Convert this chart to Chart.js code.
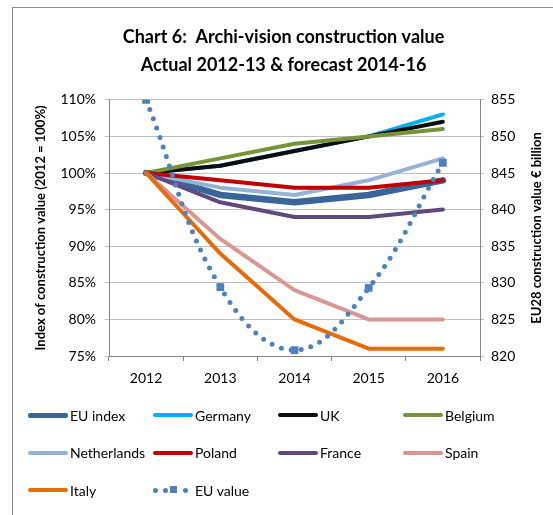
<!doctype html>
<html>
<head>
<script src="https://cdn.jsdelivr.net/npm/chart.js@4"></script>
<style>
  body { margin: 0; background: #fff; }
  #wrap { position: relative; width: 553px; height: 515px; overflow: hidden; font-family: Lato, sans-serif; }
  #frame { position: absolute; left: 12px; top: 7px; width: 700px; height: 700px; border: 1px solid #8c8c8c; }
  #chart { position: absolute; left: 0; top: 0; }
  #legend { position: absolute; left: 28px; top: 403px; display: grid; grid-template-columns: 125px 125px 125px 125px; grid-auto-rows: 37.5px; font-size: 14px; color: #000; }
  .item { display: flex; align-items: center; height: 24px; }
  .sw { width: 40px; height: 4px; border-radius: 2px; margin-right: 2px; }
  .dots { position: relative; width: 40px; height: 10px; margin-right: 2px; }
  .dots span { position: absolute; top: 2.5px; width: 5px; height: 5px; border-radius: 2.5px; background: #4F81BD; }
  .dots span.sq { top: 1px; width: 7px; height: 7px; border-radius: 0; }
</style>
</head>
<body>
<div id="wrap">
  <div id="frame"></div>
  <canvas id="chart" width="553" height="515"></canvas>
  <div id="legend"></div>
</div>
<script>
const years = ['2012', '2013', '2014', '2015', '2016'];

const euIndex     = [100, 97, 96, 97, 99];
const germany     = [100, 101, 103, 105, 108];
const uk          = [100, 101, 103, 105, 107];
const belgium     = [100, 102, 104, 105, 106];
const netherlands = [100, 98, 97, 99, 102];
const poland      = [100, 99, 98, 98, 99];
const france      = [100, 96, 94, 94, 95];
const spain       = [100, 91, 84, 80, 80];
const italy       = [100, 89, 80, 76, 76];
const euValue     = [855, 829.4, 820.8, 829.3, 846.4];

const rightTitle = 'EU28 construction value € billion';

const series = [
  { label: 'EU index', data: euIndex, color: '#3A6598', width: 6.5 },
  { label: 'Germany', data: germany, color: '#00B0F0', width: 4 },
  { label: 'UK', data: uk, color: '#0D0D0D', width: 4 },
  { label: 'Belgium', data: belgium, color: '#77933C', width: 4 },
  { label: 'Netherlands', data: netherlands, color: '#95B3D7', width: 4 },
  { label: 'Poland', data: poland, color: '#C00000', width: 4 },
  { label: 'France', data: france, color: '#604A7B', width: 4 },
  { label: 'Spain', data: spain, color: '#D99694', width: 4 },
  { label: 'Italy', data: italy, color: '#E46C0A', width: 4 },
];

Chart.defaults.font.family = 'Lato, sans-serif';
Chart.defaults.color = '#000';

const datasets = series.map((s, i) => ({
  label: s.label,
  data: s.data,
  yAxisID: 'y',
  borderColor: s.color,
  backgroundColor: s.color,
  borderWidth: s.width,
  borderCapStyle: 'round',
  borderJoinStyle: 'round',
  pointRadius: 0,
  tension: 0,
  order: 20 - i,
}));

datasets.push({
  label: 'EU value',
  data: euValue,
  yAxisID: 'y1',
  borderColor: '#4F81BD',
  backgroundColor: '#4F81BD',
  borderWidth: 5,
  borderDash: [0, 10],
  borderCapStyle: 'round',
  pointStyle: 'rect',
  pointRadius: 5.5,
  pointBorderWidth: 0,
  tension: 0.4,
  order: 1,
});

// right axis title reads bottom-to-top in the original
const rightTitlePlugin = {
  id: 'rightTitle',
  afterDraw(chart) {
    const { ctx, chartArea } = chart;
    ctx.save();
    ctx.translate(537, (chartArea.top + chartArea.bottom) / 2);
    ctx.rotate(-Math.PI / 2);
    ctx.font = 'bold 13px Lato, sans-serif';
    ctx.fillStyle = '#000';
    ctx.textAlign = 'center';
    ctx.textBaseline = 'middle';
    ctx.fillText(rightTitle, 0, 0);
    ctx.restore();
  },
};

new Chart(document.getElementById('chart'), {
  type: 'line',
  data: { labels: years, datasets },
  plugins: [rightTitlePlugin],
  options: {
    responsive: false,
    animation: false,
    layout: { padding: { left: 14, right: 0, top: 8, bottom: 129 } },
    plugins: {
      legend: { display: false },
      tooltip: { enabled: false },
      title: {
        display: true,
        text: ['Chart 6:  Archi-vision construction value', 'Actual 2012-13 & forecast 2014-16'],
        font: { size: 18, weight: 'bold', lineHeight: 1.55 },
        color: '#000',
        padding: { top: 15, bottom: 21 },
      },
    },
    scales: {
      x: {
        offset: true,
        grid: { offset: true, drawOnChartArea: false, tickLength: 5, color: '#868686' },
        border: { color: '#868686' },
        ticks: { font: { size: 14 }, color: '#000', padding: 9 },
        afterFit(s) { s.height = 30; },
      },
      y: {
        position: 'left',
        min: 75,
        max: 110,
        ticks: { stepSize: 5, callback: (v) => v + '%', font: { size: 14 }, color: '#000', padding: 9 },
        grid: { color: '#BFBFBF', tickLength: 4 },
        border: { color: '#868686' },
        title: { display: true, text: 'Index of construction value (2012 = 100%)', font: { size: 13, weight: 'bold' }, color: '#000', padding: { top: 19, bottom: 4 } },
        afterFit(s) { s.width = 95; },
      },
      y1: {
        position: 'right',
        min: 820,
        max: 855,
        ticks: { stepSize: 5, font: { size: 14 }, color: '#000', padding: 7 },
        grid: { drawOnChartArea: false, color: '#BFBFBF', tickLength: 4 },
        border: { color: '#868686' },
        afterFit(s) { s.width = 73; },
      },
    },
  },
});

// legend in four fixed columns, like the original
const legend = document.getElementById('legend');
series.forEach((s) => {
  const item = document.createElement('div');
  item.className = 'item';
  item.innerHTML = '<div class="sw" style="background:' + s.color + ';height:' + (s.width > 5 ? 5 : 4) + 'px"></div>' + s.label;
  legend.appendChild(item);
});
const ev = document.createElement('div');
ev.className = 'item';
ev.innerHTML = '<div class="dots"><span style="left:0"></span><span style="left:10px"></span><span class="sq" style="left:17px"></span><span style="left:30px"></span></div>EU value';
legend.appendChild(ev);
</script>
</body>
</html>
